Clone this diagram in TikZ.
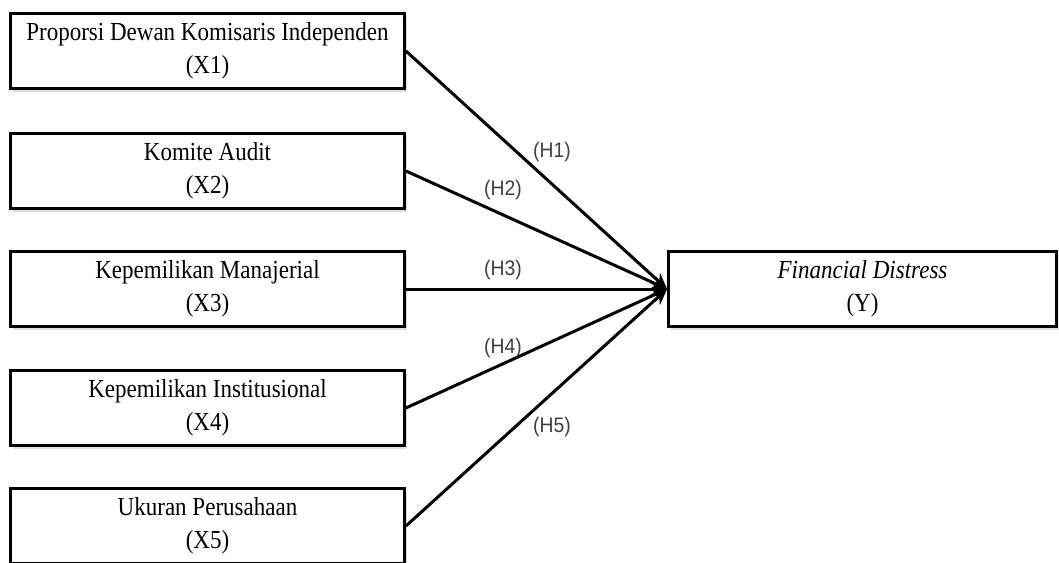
\documentclass[tikz,border=0pt]{standalone}
\usepackage{fontspec}
\setmainfont{Liberation Serif}[FakeStretch=0.885]
\newfontfamily\hypfont{Liberation Sans}[FakeStretch=0.92]
\usetikzlibrary{arrows.meta,shadows}

\begin{document}
\begin{tikzpicture}[x=1pt, y=-1pt,
    varbox/.style={draw, line width=2.8pt, fill=white, minimum width=394pt, minimum height=75pt,
        inner sep=0pt, align=center, font=\fontsize{26}{33}\selectfont,
        drop shadow={shadow xshift=2pt, shadow yshift=-3pt, fill=black!25}},
    hyp/.style={line width=3pt, -{Stealth[length=16pt, width=14pt]}},
    hyplabel/.style={font=\hypfont\fontsize{21}{21}\selectfont, text=black!75, inner sep=0pt}]
    \useasboundingbox (0,0) rectangle (1059,562);
    \clip (0,0) rectangle (1059,562);
    \fill[white] (0,0) rectangle (1059,562);

    \node[varbox] (x1) at (207.5,51) {Proporsi Dewan Komisaris Independen\\(X1)};
    \node[varbox] (x2) at (207.5,171) {Komite Audit\\(X2)};
    \node[varbox] (x3) at (207.5,289) {Kepemilikan Manajerial\\(X3)};
    \node[varbox] (x4) at (207.5,408) {Kepemilikan Institusional\\(X4)};
    \node[varbox] (x5) at (207.5,526) {Ukuran Perusahaan\\(X5)};

    \node[varbox, minimum width=388pt] (y) at (862.5,289) {\textit{Financial Distress}\\(Y)};

    \draw[hyp] (x1.east) -- (y.west);
    \draw[hyp] (x2.east) -- (y.west);
    \draw[hyp] (x3.east) -- (y.west);
    \draw[hyp] (x4.east) -- (y.west);
    \draw[hyp] (x5.east) -- (y.west);

    \node[hyplabel] (h1) at (552,152) {(H1)};
    \node[hyplabel] (h2) at (503,190) {(H2)};
    \node[hyplabel] (h3) at (503,270) {(H3)};
    \node[hyplabel] (h4) at (503,348) {(H4)};
    \node[hyplabel] (h5) at (552,427) {(H5)};
\end{tikzpicture}
\end{document}
